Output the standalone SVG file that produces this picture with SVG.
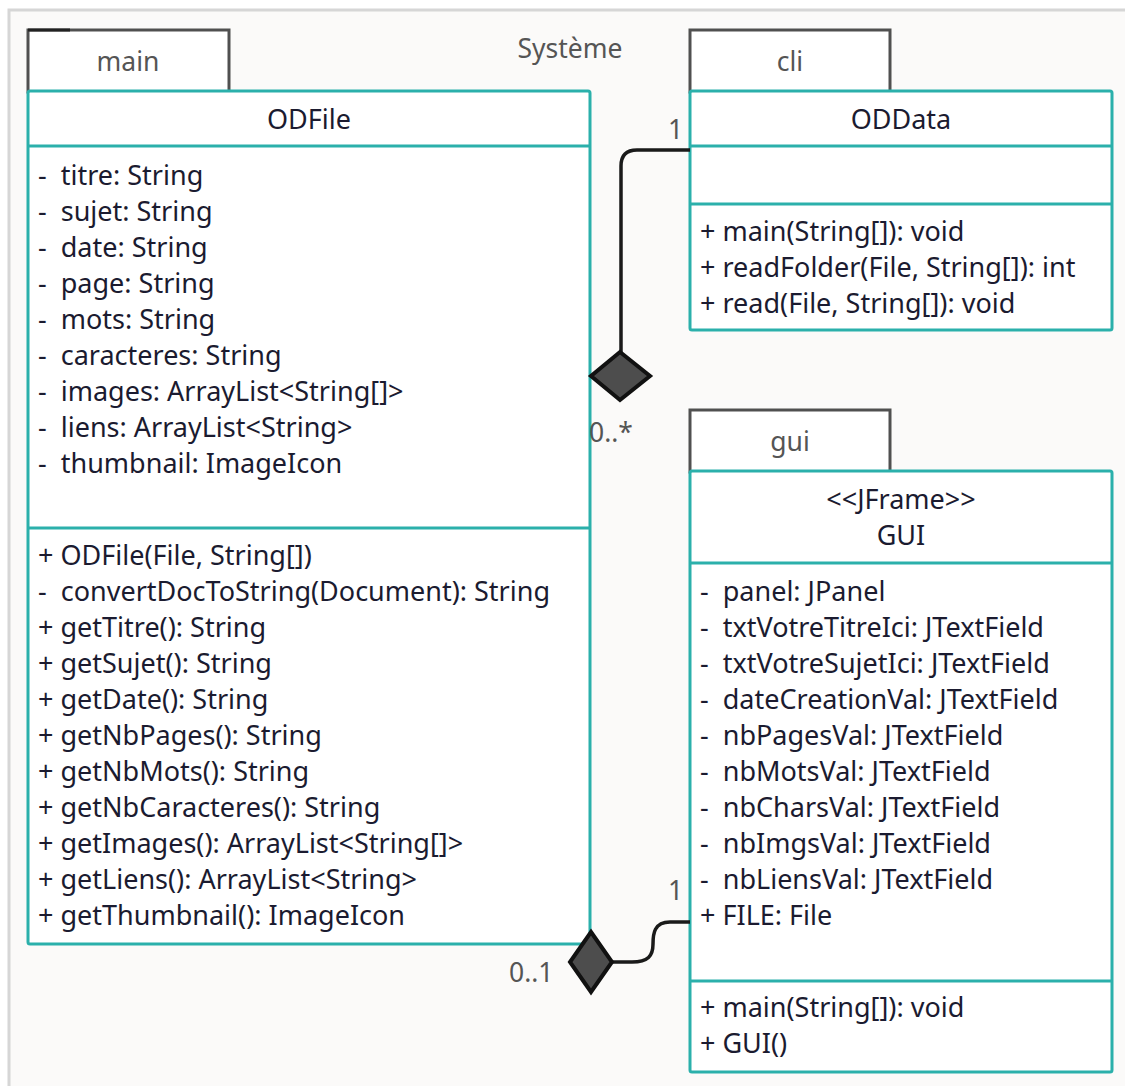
<svg xmlns="http://www.w3.org/2000/svg" width="1125" height="1086" viewBox="0 0 1125 1086" xml:space="preserve">
<style>
.t{font-family:"Noto Sans","Open Sans",sans-serif;font-size:27px;fill:#1b1b30;white-space:pre}
.c{text-anchor:middle}
.lbl{font-family:"Noto Sans","Open Sans",sans-serif;font-size:26.5px;fill:#555}
.box{fill:#fff;stroke:#2bb0ab;stroke-width:3}
.div{stroke:#2bb0ab;stroke-width:3}
.tab{fill:#fff;stroke:#505050;stroke-width:3}
.conn{fill:none;stroke:#1a1a1a;stroke-width:3.5}
.dia{fill:#4d4d4d;stroke:#111;stroke-width:4;stroke-linejoin:miter}
</style>
<rect x="0" y="0" width="1125" height="1086" fill="#fff"/>
<rect x="9" y="10" width="1125" height="1090" fill="#fbfaf9" stroke="#d6d6d6" stroke-width="3"/>
<text class="lbl c" x="570" y="58">Système</text>
<g id="main">
<rect class="tab" x="28" y="30" width="201" height="62"/>
<line x1="28" y1="30" x2="70" y2="30" stroke="#222" stroke-width="3"/>
<text class="lbl c" x="128" y="71">main</text>
</g>
<g id="ODFile">
<rect class="box" x="28" y="91" width="562" height="853" rx="2"/>
<line class="div" x1="28" y1="146" x2="590" y2="146"/>
<line class="div" x1="28" y1="528" x2="590" y2="528"/>
<text class="t c" x="309" y="129">ODFile</text>
<text class="t" x="38" y="185">-  titre: String</text>
<text class="t" x="38" y="221">-  sujet: String</text>
<text class="t" x="38" y="257">-  date: String</text>
<text class="t" x="38" y="293">-  page: String</text>
<text class="t" x="38" y="329">-  mots: String</text>
<text class="t" x="38" y="365">-  caracteres: String</text>
<text class="t" x="38" y="401">-  images: ArrayList&lt;String[]&gt;</text>
<text class="t" x="38" y="437">-  liens: ArrayList&lt;String&gt;</text>
<text class="t" x="38" y="473">-  thumbnail: ImageIcon</text>
<text class="t" x="38" y="565">+ ODFile(File, String[])</text>
<text class="t" x="38" y="601">-  convertDocToString(Document): String</text>
<text class="t" x="38" y="637">+ getTitre(): String</text>
<text class="t" x="38" y="673">+ getSujet(): String</text>
<text class="t" x="38" y="709">+ getDate(): String</text>
<text class="t" x="38" y="745">+ getNbPages(): String</text>
<text class="t" x="38" y="781">+ getNbMots(): String</text>
<text class="t" x="38" y="817">+ getNbCaracteres(): String</text>
<text class="t" x="38" y="853">+ getImages(): ArrayList&lt;String[]&gt;</text>
<text class="t" x="38" y="889">+ getLiens(): ArrayList&lt;String&gt;</text>
<text class="t" x="38" y="925">+ getThumbnail(): ImageIcon</text>
</g>
<g id="cli">
<rect class="tab" x="690" y="30" width="200" height="62"/>
<text class="lbl c" x="790" y="71">cli</text>
</g>
<g id="ODData">
<rect class="box" x="690" y="91" width="422" height="239" rx="2"/>
<line class="div" x1="690" y1="146" x2="1112" y2="146"/>
<line class="div" x1="690" y1="204" x2="1112" y2="204"/>
<text class="t c" x="901" y="129">ODData</text>
<text class="t" x="700" y="241">+ main(String[]): void</text>
<text class="t" x="700" y="277">+ readFolder(File, String[]): int</text>
<text class="t" x="700" y="313">+ read(File, String[]): void</text>
</g>
<g id="gui">
<rect class="tab" x="690" y="410" width="200" height="62"/>
<text class="lbl c" x="790" y="451">gui</text>
</g>
<g id="GUI">
<rect class="box" x="690" y="471" width="422" height="601" rx="2"/>
<line class="div" x1="690" y1="563" x2="1112" y2="563"/>
<line class="div" x1="690" y1="981" x2="1112" y2="981"/>
<text class="t c" x="901" y="509">&lt;&lt;JFrame&gt;&gt;</text>
<text class="t c" x="901" y="545">GUI</text>
<text class="t" x="700" y="601">-  panel: JPanel</text>
<text class="t" x="700" y="637">-  txtVotreTitreIci: JTextField</text>
<text class="t" x="700" y="673">-  txtVotreSujetIci: JTextField</text>
<text class="t" x="700" y="709">-  dateCreationVal: JTextField</text>
<text class="t" x="700" y="745">-  nbPagesVal: JTextField</text>
<text class="t" x="700" y="781">-  nbMotsVal: JTextField</text>
<text class="t" x="700" y="817">-  nbCharsVal: JTextField</text>
<text class="t" x="700" y="853">-  nbImgsVal: JTextField</text>
<text class="t" x="700" y="889">-  nbLiensVal: JTextField</text>
<text class="t" x="700" y="925">+ FILE: File</text>
<text class="t" x="700" y="1017">+ main(String[]): void</text>
<text class="t" x="700" y="1053">+ GUI()</text>
</g>
<g id="connectors">
<path class="conn" d="M690 150 H637 Q621 150 621 166 V354"/>
<polygon class="dia" points="620,352 650,376 620,400 591,376"/>
<text class="lbl" x="668" y="139">1</text>
<text class="lbl" x="589" y="442">0..*</text>
<path class="conn" d="M690 922 H670 C654 922 653 934 653 944 C653 956 648 962 632 962 H612"/>
<polygon class="dia" points="591,932 612,962 591,992 570,962"/>
<text class="lbl" x="668" y="900">1</text>
<text class="lbl" x="509" y="982">0..1</text>
</g>
</svg>
